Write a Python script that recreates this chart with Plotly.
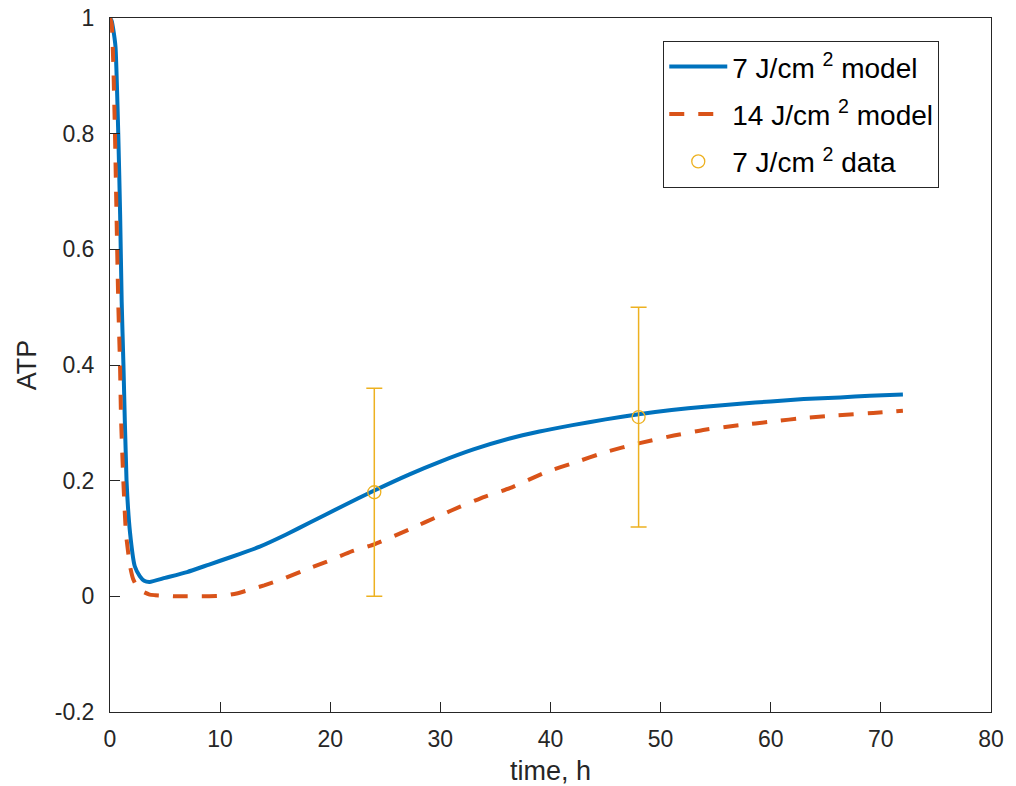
import plotly.graph_objects as go

# ---- data ----
t_7 = [0, 0.15, 0.3, 0.5, 0.75, 0.92, 1.06, 1.22, 1.5, 1.82, 2.25, 2.7, 3.1, 3.6,
       5, 7, 9, 11, 13.6, 16, 18.2, 21, 24, 27.2, 30, 33, 36.3, 39, 42, 45, 48,
       51, 54, 57.2, 60, 63, 66.3, 69, 72]
atp_7 = [1.0, 0.995, 0.98, 0.95, 0.80, 0.66, 0.51, 0.40, 0.20, 0.11, 0.052, 0.035, 0.027, 0.025,
         0.032, 0.042, 0.055, 0.068, 0.086, 0.107, 0.128, 0.155, 0.183, 0.211, 0.233, 0.254,
         0.273, 0.285, 0.296, 0.306, 0.315, 0.322, 0.328, 0.333, 0.337, 0.341, 0.344, 0.347, 0.349]

t_14 = [0, 0.15, 0.3, 0.45, 0.64, 0.76, 0.91, 1.0, 1.21, 1.45, 1.82, 2.1, 2.42, 3.0, 3.6, 4.1,
        5, 6, 7, 8, 9, 10.3, 11.5, 12.7, 14, 15.7, 17.5, 19.7, 22, 24, 27.2, 30, 31.8, 34,
        36.3, 39.7, 42, 45.1, 48, 51.2, 54, 57.2, 60, 63.3, 66, 69.3, 72]
atp_14 = [1.0, 0.99, 0.92, 0.80, 0.61, 0.50, 0.40, 0.31, 0.20, 0.109, 0.052, 0.03, 0.018, 0.008,
          0.003, 0.002, 0.001, 0.0, 0.0, 0.0, 0.0, 0.001, 0.005, 0.0115, 0.019, 0.03, 0.044,
          0.06, 0.078, 0.09, 0.116, 0.14, 0.155, 0.172, 0.187, 0.2155, 0.23, 0.25, 0.2645,
          0.278, 0.288, 0.296, 0.302, 0.309, 0.313, 0.317, 0.321]

t_data = [24, 48]
atp_data = [0.18, 0.31]
atp_err = [0.18, 0.19]

x_ticks = [0, 10, 20, 30, 40, 50, 60, 70, 80]
y_ticks = [-0.2, 0, 0.2, 0.4, 0.6, 0.8, 1]
y_tick_labels = ["-0.2", "0", "0.2", "0.4", "0.6", "0.8", "1"]

names = ["7 J/cm <sup>2</sup> model", "14 J/cm <sup>2</sup> model", "7 J/cm <sup>2</sup> data"]

FONT = "Liberation Sans, Arial, Helvetica, sans-serif"
AX = "#262626"

fig = go.Figure()
fig.add_trace(go.Scatter(x=t_7, y=atp_7, mode="lines", name=names[0],
                         line=dict(color="#0072BD", width=4, shape="spline", smoothing=0.5),
                         legendgroup="a"))
fig.add_trace(go.Scatter(x=t_14, y=atp_14, mode="lines", name=names[1],
                         line=dict(color="#D95319", width=4, dash="15px,14px",
                                   shape="spline", smoothing=0.5),
                         legendgroup="b"))
fig.add_trace(go.Scatter(x=t_data, y=atp_data, mode="markers", name=names[2],
                         marker=dict(symbol="circle-open", size=13, color="#EDB120",
                                     line=dict(width=1.3, color="#EDB120")),
                         error_y=dict(type="data", array=atp_err, color="#EDB120",
                                      thickness=1.5, width=8),
                         legendgroup="c"))

fig.update_layout(
    width=1016, height=786,
    margin=dict(l=110, r=25, t=18, b=74, autoexpand=False),
    paper_bgcolor="white", plot_bgcolor="white",
    font=dict(family=FONT, size=23, color=AX),
    showlegend=True,
    legend=dict(x=0.628, y=0.967, xanchor="left", yanchor="top",
                bgcolor="white", bordercolor=AX, borderwidth=1,
                font=dict(family=FONT, size=28, color="black"),
                tracegroupgap=8, itemwidth=58),
    xaxis=dict(range=[0, 80], tickvals=x_ticks, ticks="inside", ticklen=10,
               tickcolor=AX, showline=True, mirror=True, linecolor=AX, linewidth=1,
               showgrid=False, zeroline=False, ticklabelstandoff=6,
               tickfont=dict(size=23, color=AX),
               title=dict(text="time, h", font=dict(size=27, color=AX), standoff=14)),
    yaxis=dict(range=[-0.2, 1], tickvals=y_ticks, ticktext=y_tick_labels,
               ticks="inside", ticklen=10, tickcolor=AX,
               showline=True, mirror=True, linecolor=AX, linewidth=1,
               showgrid=False, zeroline=False, ticklabelstandoff=10,
               tickfont=dict(size=23, color=AX),
               title=dict(text="ATP", font=dict(size=27, color=AX), standoff=10)),
)

fig.write_html("out.html", config={"displayModeBar": False})

with open("out.html", "r", encoding="utf-8") as f:
    html = f.read()
html = html.replace("<head>", "<head><style>html,body{margin:0;padding:0;overflow:hidden;}</style>", 1)
with open("out.html", "w", encoding="utf-8") as f:
    f.write(html)
